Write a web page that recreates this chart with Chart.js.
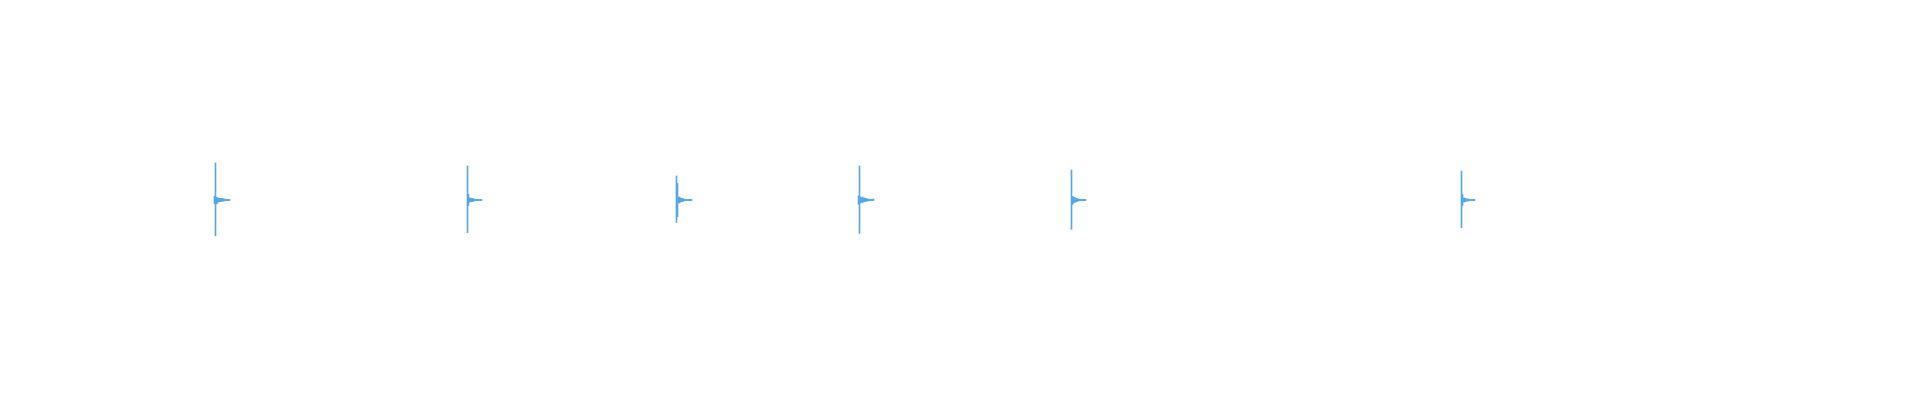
<!DOCTYPE html>
<html>
<head>
<meta charset="utf-8">
<title>waveform</title>
<script src="https://cdn.jsdelivr.net/npm/chart.js@4/dist/chart.umd.min.js"></script>
<style>
  html, body { margin: 0; padding: 0; background: #fff; }
  #wrap { width: 1920px; height: 400px; }
</style>
</head>
<body>
<div id="wrap"><canvas id="waveChart" width="1920" height="400"></canvas></div>
<script>
// sample column where each burst starts
var burstStarts = [214, 467, 676, 858, 1071, 1461];

// peak (max) amplitude of each column of a burst
var burstHighs = [
  [0.018, 0.185, 0.013, 0.012, 0.009, 0.009, 0.008, 0.008, 0.008, 0.006, 0.005, 0.003, 0.003, 0.003, 0.003, 0.003],
  [0.17, 0.028, 0.01, 0.01, 0.008, 0.008, 0.005, 0.005, 0.003, 0.003, 0.003, 0.003, 0.003, 0.003, 0.003],
  [0.12, 0.083, 0.015, 0.015, 0.01, 0.008, 0.008, 0.006, 0.003, 0.003, 0.003, 0.003, 0.003, 0.003, 0.003, 0.003],
  [0.02, 0.17, 0.015, 0.01, 0.015, 0.01, 0.01, 0.008, 0.008, 0.005, 0.004, 0.003, 0.003, 0.003, 0.003, 0.005],
  [0.15, 0.018, 0.015, 0.012, 0.01, 0.008, 0.006, 0.005, 0.004, 0.003, 0.003, 0.003, 0.003, 0.003, 0.003],
  [0.145, 0.028, 0.01, 0.01, 0.008, 0.005, 0.005, 0.004, 0.003, 0.003, 0.003, 0.003, 0.003, 0.003]
];

// trough (min) amplitude of each column of a burst
var burstLows = [
  [-0.018, -0.179, -0.02, -0.015, -0.009, -0.009, -0.008, -0.008, -0.006, -0.005, -0.004, -0.003, -0.003, -0.003, -0.003, -0.003],
  [-0.163, -0.027, -0.01, -0.01, -0.008, -0.008, -0.005, -0.005, -0.003, -0.003, -0.003, -0.003, -0.003, -0.003, -0.003],
  [-0.112, -0.083, -0.015, -0.015, -0.01, -0.008, -0.008, -0.006, -0.003, -0.003, -0.003, -0.003, -0.003, -0.003, -0.003, -0.003],
  [-0.02, -0.167, -0.015, -0.012, -0.012, -0.01, -0.008, -0.008, -0.006, -0.005, -0.004, -0.003, -0.003, -0.003, -0.003, -0.002],
  [-0.147, -0.022, -0.015, -0.012, -0.01, -0.008, -0.006, -0.005, -0.004, -0.003, -0.003, -0.003, -0.003, -0.003, -0.003],
  [-0.139, -0.028, -0.01, -0.01, -0.008, -0.005, -0.005, -0.004, -0.003, -0.003, -0.003, -0.003, -0.003, -0.003]
];

// turn the bursts into floating bars, one per column
var wavePoints = [];
for (var b = 0; b < burstStarts.length; b++) {
  for (var i = 0; i < burstHighs[b].length; i++) {
    wavePoints.push({ x: burstStarts[b] + i, y: [burstLows[b][i], burstHighs[b][i]] });
  }
}

var ctxW = document.getElementById("waveChart").getContext('2d');
var waveChart = new Chart(ctxW, {
  type: 'bar',
  data: {
    datasets: [{
      data: wavePoints,
      backgroundColor: "#56a8e4",
      borderWidth: 0,
      barThickness: 1,
      borderSkipped: false
    }]
  },
  options: {
    responsive: false,
    devicePixelRatio: 1,
    animation: false,
    layout: { padding: 0 },
    plugins: {
      legend: { display: false },
      tooltip: { enabled: false }
    },
    scales: {
      x: { type: 'linear', min: -0.5, max: 1919.5, offset: false, display: false },
      y: { min: -1, max: 1, display: false }
    }
  }
});
</script>
</body>
</html>
